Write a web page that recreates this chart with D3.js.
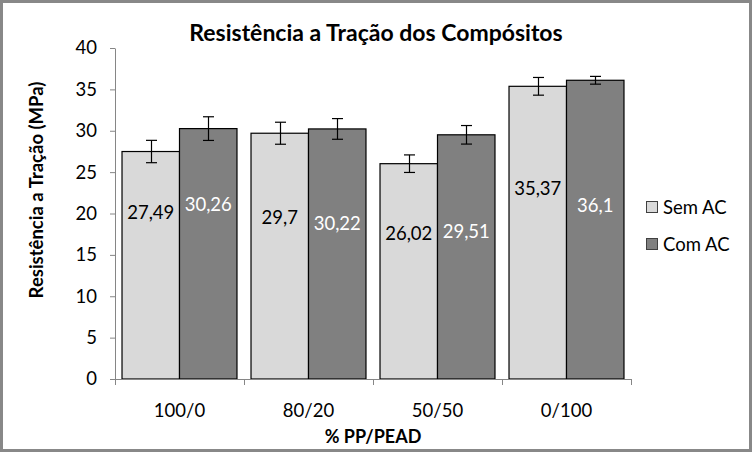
<!DOCTYPE html>
<html>
<head>
<meta charset="utf-8">
<script src="https://cdn.jsdelivr.net/npm/d3@7/dist/d3.min.js"></script>
<style>
  html, body { margin: 0; padding: 0; background: #fff; }
  svg { display: block; }
  text { font-family: Lato, "Open Sans", sans-serif; }
</style>
</head>
<body>
<svg id="chart" width="752" height="452"></svg>
<script>
// ---- data ----
const categories = ["100/0", "80/20", "50/50", "0/100"];
const seriesNames = ["Sem AC", "Com AC"];
const semAC = [27.49, 29.7, 26.02, 35.37];
const comAC = [30.26, 30.22, 29.51, 36.1];
const semACErr = [1.35, 1.33, 1.06, 1.07];
const comACErr = [1.43, 1.25, 1.12, 0.47];
const yTicks = [0, 5, 10, 15, 20, 25, 30, 35, 40];
const labelTexts = [
  ["27,49", "29,7", "26,02", "35,37"],
  ["30,26", "30,22", "29,51", "36,1"]
];
const chartTitle = "Resistência a Tração dos Compósitos";
const yTitle = "Resistência a Tração (MPa)";
const xTitle = "% PP/PEAD";

// ---- layout ----
const W = 752, H = 452;
const plot = { left: 115, right: 631, top: 48, bottom: 379 };
const colors = ["#d9d9d9", "#808080"];
const labelColors = ["#000000", "#ffffff"];
const axisColor = "#868686";
// manual data-label placement (in value units), as in the reference
const labelPos = [
  [20.2, 19.6, 17.6, 23.1],
  [21.1, 18.9, 17.9, 21.0]
];

const series = [semAC, comAC];
const errs = [semACErr, comACErr];

const svg = d3.select("#chart");

svg.append("rect")
  .attr("x", 1.5).attr("y", 1.5)
  .attr("width", W - 3).attr("height", H - 3)
  .attr("fill", "#fff").attr("stroke", "#888888").attr("stroke-width", 3);

const x = d3.scaleBand().domain(categories).range([plot.left, plot.right]).paddingInner(0).paddingOuter(0);
const xs = d3.scaleBand().domain(d3.range(seriesNames.length)).range([0, x.bandwidth()]).paddingInner(0).paddingOuter(0.122);
const y = d3.scaleLinear().domain([0, 40]).range([plot.bottom, plot.top]);

// bars
const g = svg.append("g");
series.forEach((vals, si) => {
  g.selectAll(null).data(vals).enter().append("rect")
    .attr("x", (d, i) => x(categories[i]) + xs(si))
    .attr("y", d => y(d))
    .attr("width", xs.bandwidth())
    .attr("height", d => y(0) - y(d))
    .attr("fill", colors[si])
    .attr("stroke", "#000").attr("stroke-width", 1.2);
});

// error bars
series.forEach((vals, si) => {
  vals.forEach((v, i) => {
    const cx = Math.round(x(categories[i]) + xs(si) + xs.bandwidth() / 2) + 0.5;
    const e = errs[si][i];
    const eg = g.append("g").attr("stroke", "#000").attr("stroke-width", 1.2);
    eg.append("line").attr("x1", cx).attr("x2", cx).attr("y1", y(v + e)).attr("y2", y(v - e));
    eg.append("line").attr("x1", cx - 5.5).attr("x2", cx + 5.5).attr("y1", y(v + e)).attr("y2", y(v + e));
    eg.append("line").attr("x1", cx - 5.5).attr("x2", cx + 5.5).attr("y1", y(v - e)).attr("y2", y(v - e));
  });
});

// data labels
series.forEach((vals, si) => {
  g.selectAll(null).data(vals).enter().append("text")
    .attr("x", (d, i) => x(categories[i]) + xs(si) + xs.bandwidth() / 2)
    .attr("y", (d, i) => y(labelPos[si][i]))
    .attr("text-anchor", "middle")
    .attr("dominant-baseline", "central")
    .attr("font-size", 18.5)
    .attr("fill", labelColors[si])
    .text((d, i) => labelTexts[si][i]);
});

// y axis
const yAxis = d3.axisLeft(y).tickValues(yTicks).tickSize(5).tickSizeOuter(0).tickPadding(13).tickFormat(d3.format("d"));
const ya = svg.append("g").attr("transform", `translate(${plot.left},0)`).call(yAxis);
ya.select(".domain").attr("stroke", axisColor);
ya.selectAll(".tick line").attr("stroke", axisColor);
ya.selectAll(".tick text").attr("font-size", 18.5).attr("fill", "#000").attr("font-family", "Lato, sans-serif");

// x axis
const xa = svg.append("g");
xa.append("line").attr("x1", plot.left).attr("x2", plot.right).attr("y1", plot.bottom + 0.5).attr("y2", plot.bottom + 0.5).attr("stroke", axisColor);
const bounds = categories.map(c => x(c)).concat([plot.right]);
xa.selectAll(null).data(bounds).enter().append("line")
  .attr("x1", d => d + 0.5).attr("x2", d => d + 0.5)
  .attr("y1", plot.bottom).attr("y2", plot.bottom + 6)
  .attr("stroke", axisColor);
xa.selectAll(null).data(categories).enter().append("text")
  .attr("x", d => x(d) + x.bandwidth() / 2)
  .attr("y", 410)
  .attr("text-anchor", "middle").attr("dominant-baseline", "central")
  .attr("font-size", 18.5).text(d => d);

// titles
svg.append("text").attr("x", 376).attr("y", 32)
  .attr("text-anchor", "middle").attr("dominant-baseline", "central")
  .attr("font-size", 23).attr("font-weight", "bold").text(chartTitle);
svg.append("text").attr("transform", "translate(36,190) rotate(-90)")
  .attr("text-anchor", "middle").attr("dominant-baseline", "central")
  .attr("font-size", 18.5).attr("font-weight", "bold").text(yTitle);
svg.append("text").attr("x", 373).attr("y", 436)
  .attr("text-anchor", "middle").attr("dominant-baseline", "central")
  .attr("font-size", 18).attr("font-weight", "bold").text(xTitle);

// legend
const lg = svg.append("g");
seriesNames.forEach((name, si) => {
  const cy = 207 + si * 37;
  lg.append("rect").attr("x", 646.5).attr("y", cy - 5.5).attr("width", 11).attr("height", 11)
    .attr("fill", colors[si]).attr("stroke", "#404040").attr("stroke-width", 1);
  lg.append("text").attr("x", 663).attr("y", cy)
    .attr("dominant-baseline", "central").attr("font-size", 18.5).text(name);
});
</script>
</body>
</html>
